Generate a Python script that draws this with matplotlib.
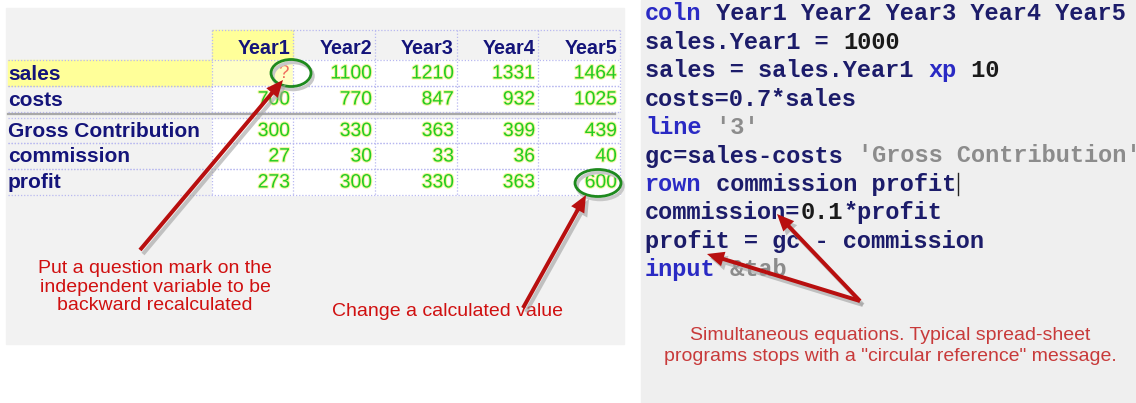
import matplotlib
matplotlib.use('Agg')
import matplotlib.pyplot as plt
import matplotlib.patches as mpatches
import matplotlib.patheffects as pe

# table content
years = ['Year1', 'Year2', 'Year3', 'Year4', 'Year5']
row_names = ['sales', 'costs', 'Gross Contribution', 'commission', 'profit']
sales = ['?', 1100, 1210, 1331, 1464]
costs = [700, 770, 847, 932, 1025]
gross = [300, 330, 363, 399, 439]
commission = [27, 30, 33, 36, 40]
profit = [273, 300, 330, 363, 600]
table_rows = [sales, costs, gross, commission, profit]

note_left = 'Put a question mark on the\nindependent variable to be\nbackward recalculated'
note_mid = 'Change a calculated value'
note_right = ('Simultaneous equations. Typical spread-sheet\n'
              'programs stops with a "circular reference" message.')

# code listing: (text, kind) tokens per line
code_lines = [
    [('coln', 'kw'), (' Year1 Year2 Year3 Year4 Year5', 'id')],
    [('sales.Year1 = ', 'id'), ('1000', 'num')],
    [('sales = sales.Year1 ', 'id'), ('xp', 'kw'), (' 10', 'num')],
    [('costs=0.7*sales', 'id')],
    [('line', 'kw'), (" '3'", 'str')],
    [('gc=sales-costs ', 'id'), ("'Gross Contribution'", 'str')],
    [('rown', 'kw'), (' commission profit', 'id')],
    [('commission=', 'id'), ('0.1', 'num'), ('*profit', 'id')],
    [('profit = gc - commission', 'id')],
    [('input', 'kw'), (' &tab', 'str')],
]
code_colors = {'kw': '#2a2ac4', 'id': '#1c1c6a', 'num': '#1a1a1a', 'str': '#8c8c8c'}

W, H = 1136, 403
fig = plt.figure(figsize=(W / 100, H / 100), dpi=100)
ax = fig.add_axes([0, 0, 1, 1])
ax.set_xlim(0, W)
ax.set_ylim(H, 0)
ax.axis('off')

# panels
ax.add_patch(mpatches.Rectangle((6, 8), 618, 336, color='#f2f2f2', zorder=0))
ax.add_patch(mpatches.Rectangle((641, 0), W - 641, H, color='#efefef', zorder=0))

# grid geometry
col_edges = [8, 212, 293, 375, 457, 538, 620]
head_top, head_bot = 30, 60
row_tops = [60, 86, 118, 143, 169]
row_h = [26, 26, 25, 26, 26]
dot = dict(color='#b8b8f0', lw=0.9, ls=(0, (1, 1.5)), zorder=3)

# header
ax.add_patch(mpatches.Rectangle((col_edges[1], head_top), col_edges[2] - col_edges[1],
                                head_bot - head_top, color='#ffff99', zorder=1))
for j, y in enumerate(years):
    ax.text(col_edges[j + 2] - 3, head_bot - 12, y, ha='right', va='center',
            fontsize=14.2, fontweight='bold', color='#14147a', family='Liberation Sans', zorder=4)
ax.plot([col_edges[1], col_edges[-1]], [head_top, head_top], **dot)

# body cells
for i, (name, vals) in enumerate(zip(row_names, table_rows)):
    top, h = row_tops[i], row_h[i]
    if i == 0:
        ax.add_patch(mpatches.Rectangle((col_edges[0], top), col_edges[1] - col_edges[0], h,
                                        color='#ffff99', zorder=1))
    for j, v in enumerate(vals):
        x0, x1 = col_edges[j + 1], col_edges[j + 2]
        fc = '#ffffc4' if (i == 0 and j == 0) else 'white'
        ax.add_patch(mpatches.Rectangle((x0, top), x1 - x0, h, color=fc, zorder=1))
        if v == '?':
            ax.text(x1 - 4, top + h / 2 + 1, v, ha='right', va='center', fontsize=13.5,
                    color='#f07060', family='Liberation Sans', zorder=4)
        else:
            ax.text(x1 - 3, top + h / 2 + 1, str(v), ha='right', va='center', fontsize=13.9,
                    color='#22cc22', family='Liberation Sans', zorder=4,
                    path_effects=[pe.withStroke(linewidth=1.5, foreground='#f4f4a0')])
    ax.text(col_edges[0], top + h / 2 + 1, name, ha='left', va='center', fontsize=15,
            fontweight='bold', color='#14147a', family='Liberation Sans', zorder=4)
    ax.plot([col_edges[0], col_edges[-1]], [top, top], **dot)
    ax.plot([col_edges[0], col_edges[-1]], [top + h, top + h], **dot)

for x in col_edges[1:]:
    ax.plot([x, x], [head_top, 112], **dot)
    ax.plot([x, x], [118, 195], **dot)

# separator between costs and gross contribution
ax.add_patch(mpatches.Rectangle((8, 112), 612, 6, color='#f2f2f2', zorder=2))
ax.plot([8, 615], [114, 114], color='#a8a8a8', lw=1.6, zorder=3)

# green circles
for cx, cy, w, h in [(291, 73, 40, 27), (598, 183, 46, 27)]:
    ax.add_patch(mpatches.Ellipse((cx + 2, cy + 3), w, h, fill=False, ec='#c8c8c8', lw=2.5, zorder=4))
    ax.add_patch(mpatches.Ellipse((cx, cy), w, h, fill=False, ec='#1e8a1e', lw=2, zorder=5))


def red_arrow(x0, y0, x1, y1):
    kw = dict(width=4, head_width=15, head_length=17, length_includes_head=True, lw=0)
    ax.add_patch(mpatches.FancyArrow(x0 + 3, y0 + 4, x1 - x0, y1 - y0, color='#a0a0a0',
                                     alpha=0.6, zorder=5, **kw))
    ax.add_patch(mpatches.FancyArrow(x0, y0, x1 - x0, y1 - y0, color='#b80f0f', zorder=6, **kw))


red_arrow(140, 250, 283, 80)
red_arrow(523, 308, 586, 195)

ax.text(155, 287, note_left, ha='center', va='center', fontsize=14, color='#d01010',
        family='Liberation Sans', linespacing=1.13, zorder=4)
ax.text(448, 312, note_mid, ha='center', va='center', fontsize=14, color='#d01010',
        family='Liberation Sans', zorder=4)

# code listing
char_w = 17 / 72 * 100 * 0.6
for i, tokens in enumerate(code_lines):
    y = 14 + 28.4 * i
    col = 0
    for txt, kind in tokens:
        ax.text(645 + col * char_w, y, txt, ha='left', va='center', fontsize=17,
                fontweight='bold', family='Liberation Mono', color=code_colors[kind], zorder=4)
        col += len(txt)
    if i == 6:
        ax.plot([645 + col * char_w + 1] * 2, [y - 11, y + 11], color='#222222', lw=1, zorder=4)

red_arrow(860, 301, 777, 214)
red_arrow(860, 301, 707, 254)

ax.text(890, 346, note_right, ha='center', va='center', fontsize=14, color='#c83a3a',
        family='Liberation Sans', linespacing=1.3, zorder=4)

fig.savefig('out.png', dpi=100)
